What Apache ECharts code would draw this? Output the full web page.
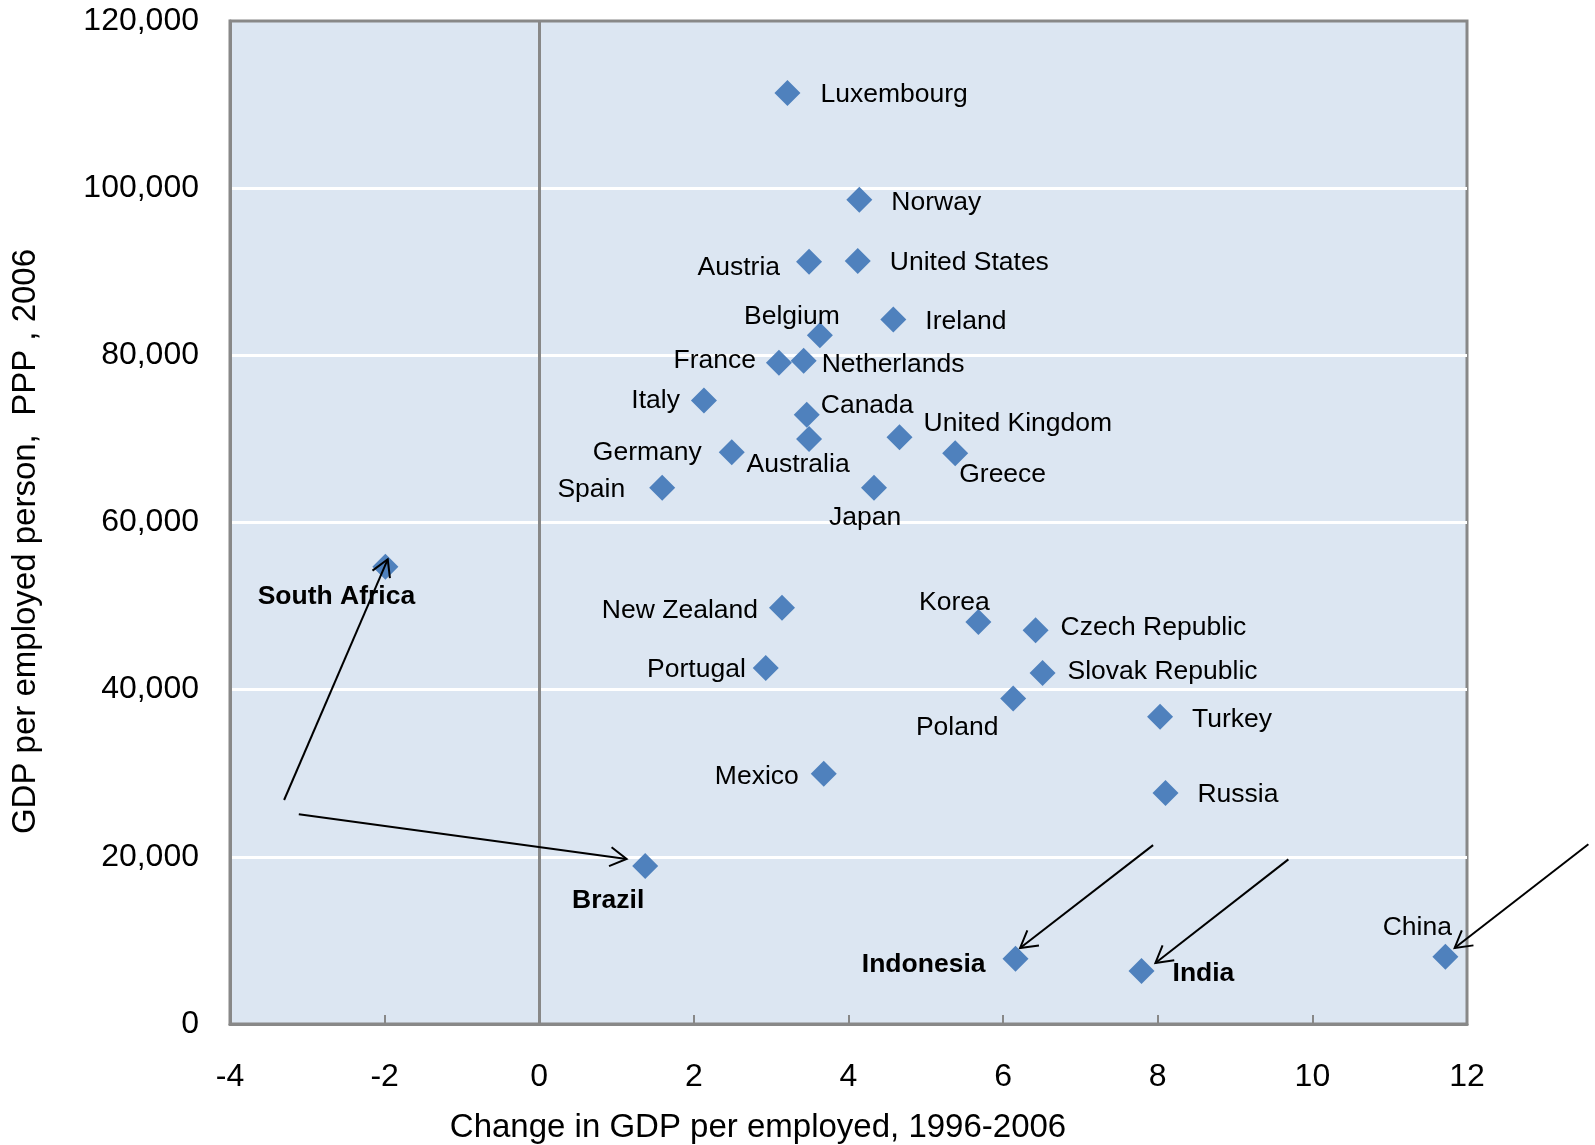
<!DOCTYPE html>
<html><head><meta charset="utf-8">
<script src="https://cdn.jsdelivr.net/npm/echarts/dist/echarts.min.js"></script>
<style>html,body{margin:0;padding:0;background:#fff}#c{width:1595px;height:1145px}</style>
</head><body><div id="c"></div>
<script>
// ---- Data ----
const countries = ['Luxembourg','Norway','Austria','United States','Belgium','Ireland','France','Netherlands','Italy','Canada','Australia','United Kingdom','Germany','Greece','Spain','Japan','South Africa','New Zealand','Korea','Czech Republic','Portugal','Slovak Republic','Poland','Turkey','Mexico','Russia','Brazil','Indonesia','India','China'];
const gdpGrowth = [3.21,4.14,3.49,4.12,3.63,4.58,3.10,3.42,2.13,3.46,3.49,4.66,2.49,5.38,1.59,4.33,-1.99,3.14,5.68,6.42,2.93,6.51,6.13,8.03,3.68,8.10,1.37,6.16,7.79,11.72];
const gdpPerEmployed = [111400,98600,91200,91300,82400,84300,79100,79350,74600,72900,70000,70200,68400,68300,64150,64150,54700,49800,48100,47100,42600,42000,38950,36750,29950,27650,18900,7800,6350,8050];
const highlighted = ['South Africa','Brazil','Indonesia','India'];
// arrows (annotation) in data coordinates: tail -> tip
const arrowTails = [[-3.30,26800],[-3.11,25100],[7.94,21400],[9.69,19700],[13.57,21500]];
const arrowTips  = [[-1.96,55600],[1.13,19750],[6.22,9100],[7.97,7300],[11.84,9100]];

// ---- Label placement (style, not data): anchor, dx, dy in px from marker ----
const labelPlacement = {
  'Luxembourg':['l',33,0],'Norway':['l',32,1],'Austria':['r',-29,4],'United States':['l',32,0],
  'Belgium':['c',-28,-21],'Ireland':['l',32,0],'France':['r',-23,-4],'Netherlands':['l',18,2],
  'Italy':['r',-24,-2],'Canada':['l',14,-11],'Australia':['c',-11,24],'United Kingdom':['l',24,-16],
  'Germany':['r',-30,-2],'Greece':['l',4,20],'Spain':['r',-37,0],'Japan':['c',-9,28],
  'South Africa':['c',-49,28],'New Zealand':['r',-24,1],'Korea':['c',-24,-21],'Czech Republic':['l',25,-5],
  'Portugal':['r',-20,0],'Slovak Republic':['l',25,-3],'Poland':['c',-56,27],'Turkey':['l',32,1],
  'Mexico':['r',-25,1],'Russia':['l',32,0],'Brazil':['c',-37,33],'Indonesia':['r',-30,4],
  'India':['l',31,1],'China':['c',-28,-31]
};
const alignMap = {l:'left', r:'right', c:'center'};
const LABEL_DY = 2;

const seriesData = countries.map((name, i) => {
  const p = labelPlacement[name];
  return {
    name: name,
    value: [gdpGrowth[i], gdpPerEmployed[i]],
    label: {
      align: alignMap[p[0]],
      offset: [p[1], p[2] + LABEL_DY],
      color: '#000000',
      fontWeight: highlighted.includes(name) ? 'bold' : 'normal'
    }
  };
});

const chart = echarts.init(document.getElementById('c'), null, {renderer: 'canvas'});
const FONT = 'Liberation Sans, Arial, sans-serif';
chart.setOption({
  animation: false,
  backgroundColor: '#ffffff',
  grid: {
    left: 230, top: 21, right: 128, bottom: 121,
    containLabel: false, outerBoundsMode: 'none',
    show: true, backgroundColor: '#dce6f2', borderColor: '#888888', borderWidth: 3
  },
  xAxis: {
    type: 'value', min: -4, max: 12, interval: 2,
    name: 'Change in GDP per employed, 1996-2006',
    nameLocation: 'middle', nameGap: 87,
    nameTextStyle: {fontFamily: FONT, fontSize: 33, color: '#000', padding: [0, 181, 0, 0]},
    axisLine: {show: true, onZero: false, lineStyle: {color: '#888888', width: 3}},
    axisTick: {show: true, inside: true, length: 9, lineStyle: {color: '#888888', width: 2}},
    axisLabel: {fontFamily: FONT, fontSize: 32, color: '#000', margin: 37},
    splitLine: {show: false}
  },
  yAxis: {
    type: 'value', min: 0, max: 120000, interval: 20000,
    name: 'GDP per employed person,  PPP , 2006',
    nameLocation: 'middle', nameGap: 188, nameRotate: 90,
    nameTextStyle: {fontFamily: FONT, fontSize: 33, color: '#000', padding: [0, 38, 0, 0]},
    axisLine: {show: true, onZero: false, lineStyle: {color: '#888888', width: 3}},
    axisTick: {show: false},
    axisLabel: {fontFamily: FONT, fontSize: 32, color: '#000', margin: 31,
      formatter: v => v.toLocaleString('en-US')},
    splitLine: {show: true, showMinLine: false, showMaxLine: false, lineStyle: {color: '#ffffff', width: 3}}
  },
  series: [{
    type: 'scatter',
    symbol: 'diamond',
    symbolSize: 26,
    itemStyle: {color: '#4f81bd', opacity: 1},
    label: {
      show: true, position: 'inside', formatter: '{b}', color: '#000000',
      fontFamily: FONT, fontSize: 26.5, verticalAlign: 'middle',
      textBorderWidth: 0, opacity: 1
    },
    emphasis: {disabled: true},
    data: seriesData,
    markLine: {
      silent: true, symbol: 'none', animation: false,
      label: {show: false},
      lineStyle: {color: '#888888', width: 3, type: 'solid', opacity: 1},
      data: [{xAxis: 0}]
    },
    z: 3
  }]
});

// arrows drawn from data coordinates
function drawArrows() {
  const els = [];
  for (let i = 0; i < arrowTails.length; i++) {
    const a = chart.convertToPixel({xAxisIndex: 0, yAxisIndex: 0}, arrowTails[i]);
    const b = chart.convertToPixel({xAxisIndex: 0, yAxisIndex: 0}, arrowTips[i]);
    const ang = Math.atan2(a[1] - b[1], a[0] - b[0]);
    const L = 19, da = Math.PI / 6;
    const p1 = [b[0] + L * Math.cos(ang + da), b[1] + L * Math.sin(ang + da)];
    const p2 = [b[0] + L * Math.cos(ang - da), b[1] + L * Math.sin(ang - da)];
    els.push({type: 'line', z: 10, silent: true,
      shape: {x1: a[0], y1: a[1], x2: b[0], y2: b[1]},
      style: {stroke: '#000', lineWidth: 2}});
    els.push({type: 'polyline', z: 10, silent: true,
      shape: {points: [p1, b, p2]},
      style: {stroke: '#000', lineWidth: 2, fill: null}});
  }
  chart.setOption({graphic: els});
}
drawArrows();
</script>
</body></html>
